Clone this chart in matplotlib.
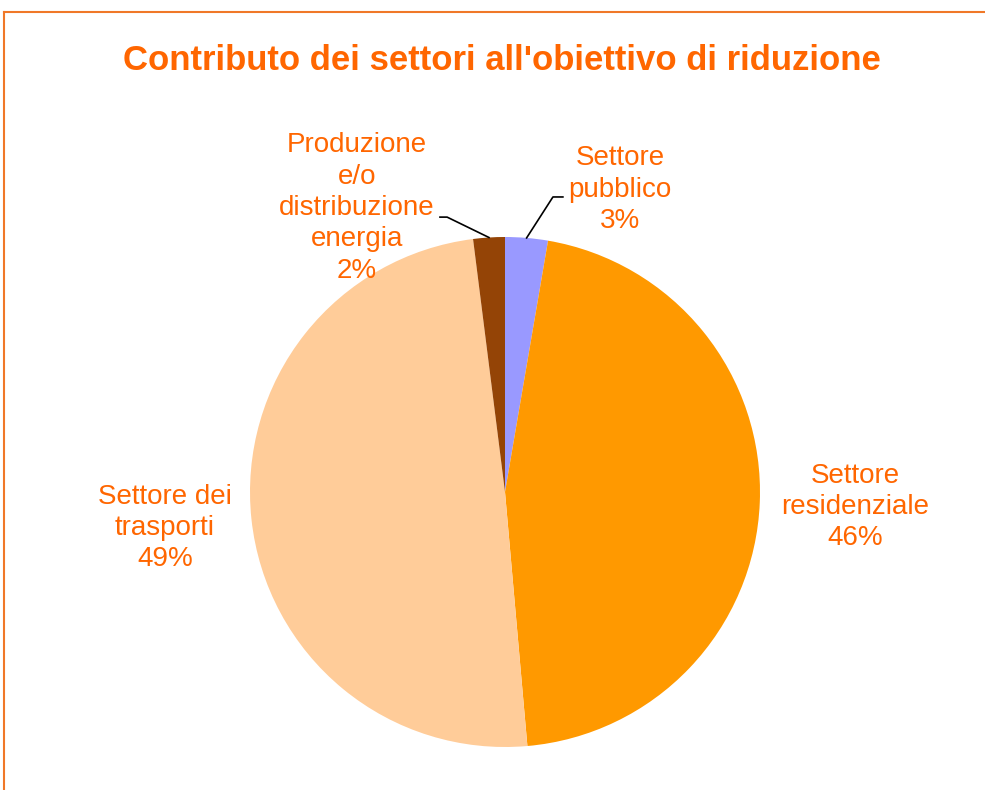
import numpy as np
import matplotlib.pyplot as plt
from matplotlib.lines import Line2D

plt.rcParams['font.family'] = ['Liberation Sans', 'DejaVu Sans']

title = "Contributo dei settori all'obiettivo di riduzione"
sectors = ['Settore\npubblico', 'Settore\nresidenziale', 'Settore dei\ntrasporti',
           'Produzione\ne/o\ndistribuzione\nenergia']
shares = [2.7, 45.9, 49.4, 2.0]
pct_labels = ['3%', '46%', '49%', '2%']
colors = ['#9999FF', '#FF9900', '#FFCC99', '#944406']
text_color = '#FF6600'

W, H = 985, 790
cx, cy, rad = 505, 492, 255

fig = plt.figure(figsize=(W / 100, H / 100), dpi=100)
ax = fig.add_axes([0, 0, 1, 1])
wedges, _ = ax.pie(shares, colors=colors, startangle=90, counterclock=False,
                   radius=1, wedgeprops=dict(linewidth=0))
ax.set_xlim(-cx / rad, (W - cx) / rad)
ax.set_ylim(-(H - cy) / rad, cy / rad)
ax.set_aspect('equal', adjustable='datalim')
ax.axis('off')

# label positions (data units, pie radius = 1)
label_pos = [(0.451, 1.185), (1.373, -0.059), (-1.333, -0.141), (-0.580, 1.114)]
# leader lines for the small slices: elbow and end points
leaders = {0: [(0.188, 1.157), (0.227, 1.157)],
           3: [(-0.227, 1.078), (-0.255, 1.078)]}

for i, w in enumerate(wedges):
    tx, ty = label_pos[i]
    ax.text(tx, ty, f'{sectors[i]}\n{pct_labels[i]}', ha='center', va='center',
            fontsize=20, color=text_color, linespacing=1.27)
    if i in leaders:
        mid = np.deg2rad((w.theta1 + w.theta2) / 2)
        pts = [(np.cos(mid), np.sin(mid))] + leaders[i]
        xs, ys = zip(*pts)
        ax.plot(xs, ys, color='black', lw=1.2)

fig.text(502 / W, 1 - 61 / H, title, ha='center', va='center',
         fontsize=25, fontweight='bold', color=text_color)

# chart area border (top and left edges visible)
fig.add_artist(Line2D([4 / W, 1], [1 - 12 / H, 1 - 12 / H], color='#F07828', lw=1.5))
fig.add_artist(Line2D([4 / W, 4 / W], [0, 1 - 12 / H], color='#F07828', lw=1.5))

fig.savefig('out.png', dpi=100)
